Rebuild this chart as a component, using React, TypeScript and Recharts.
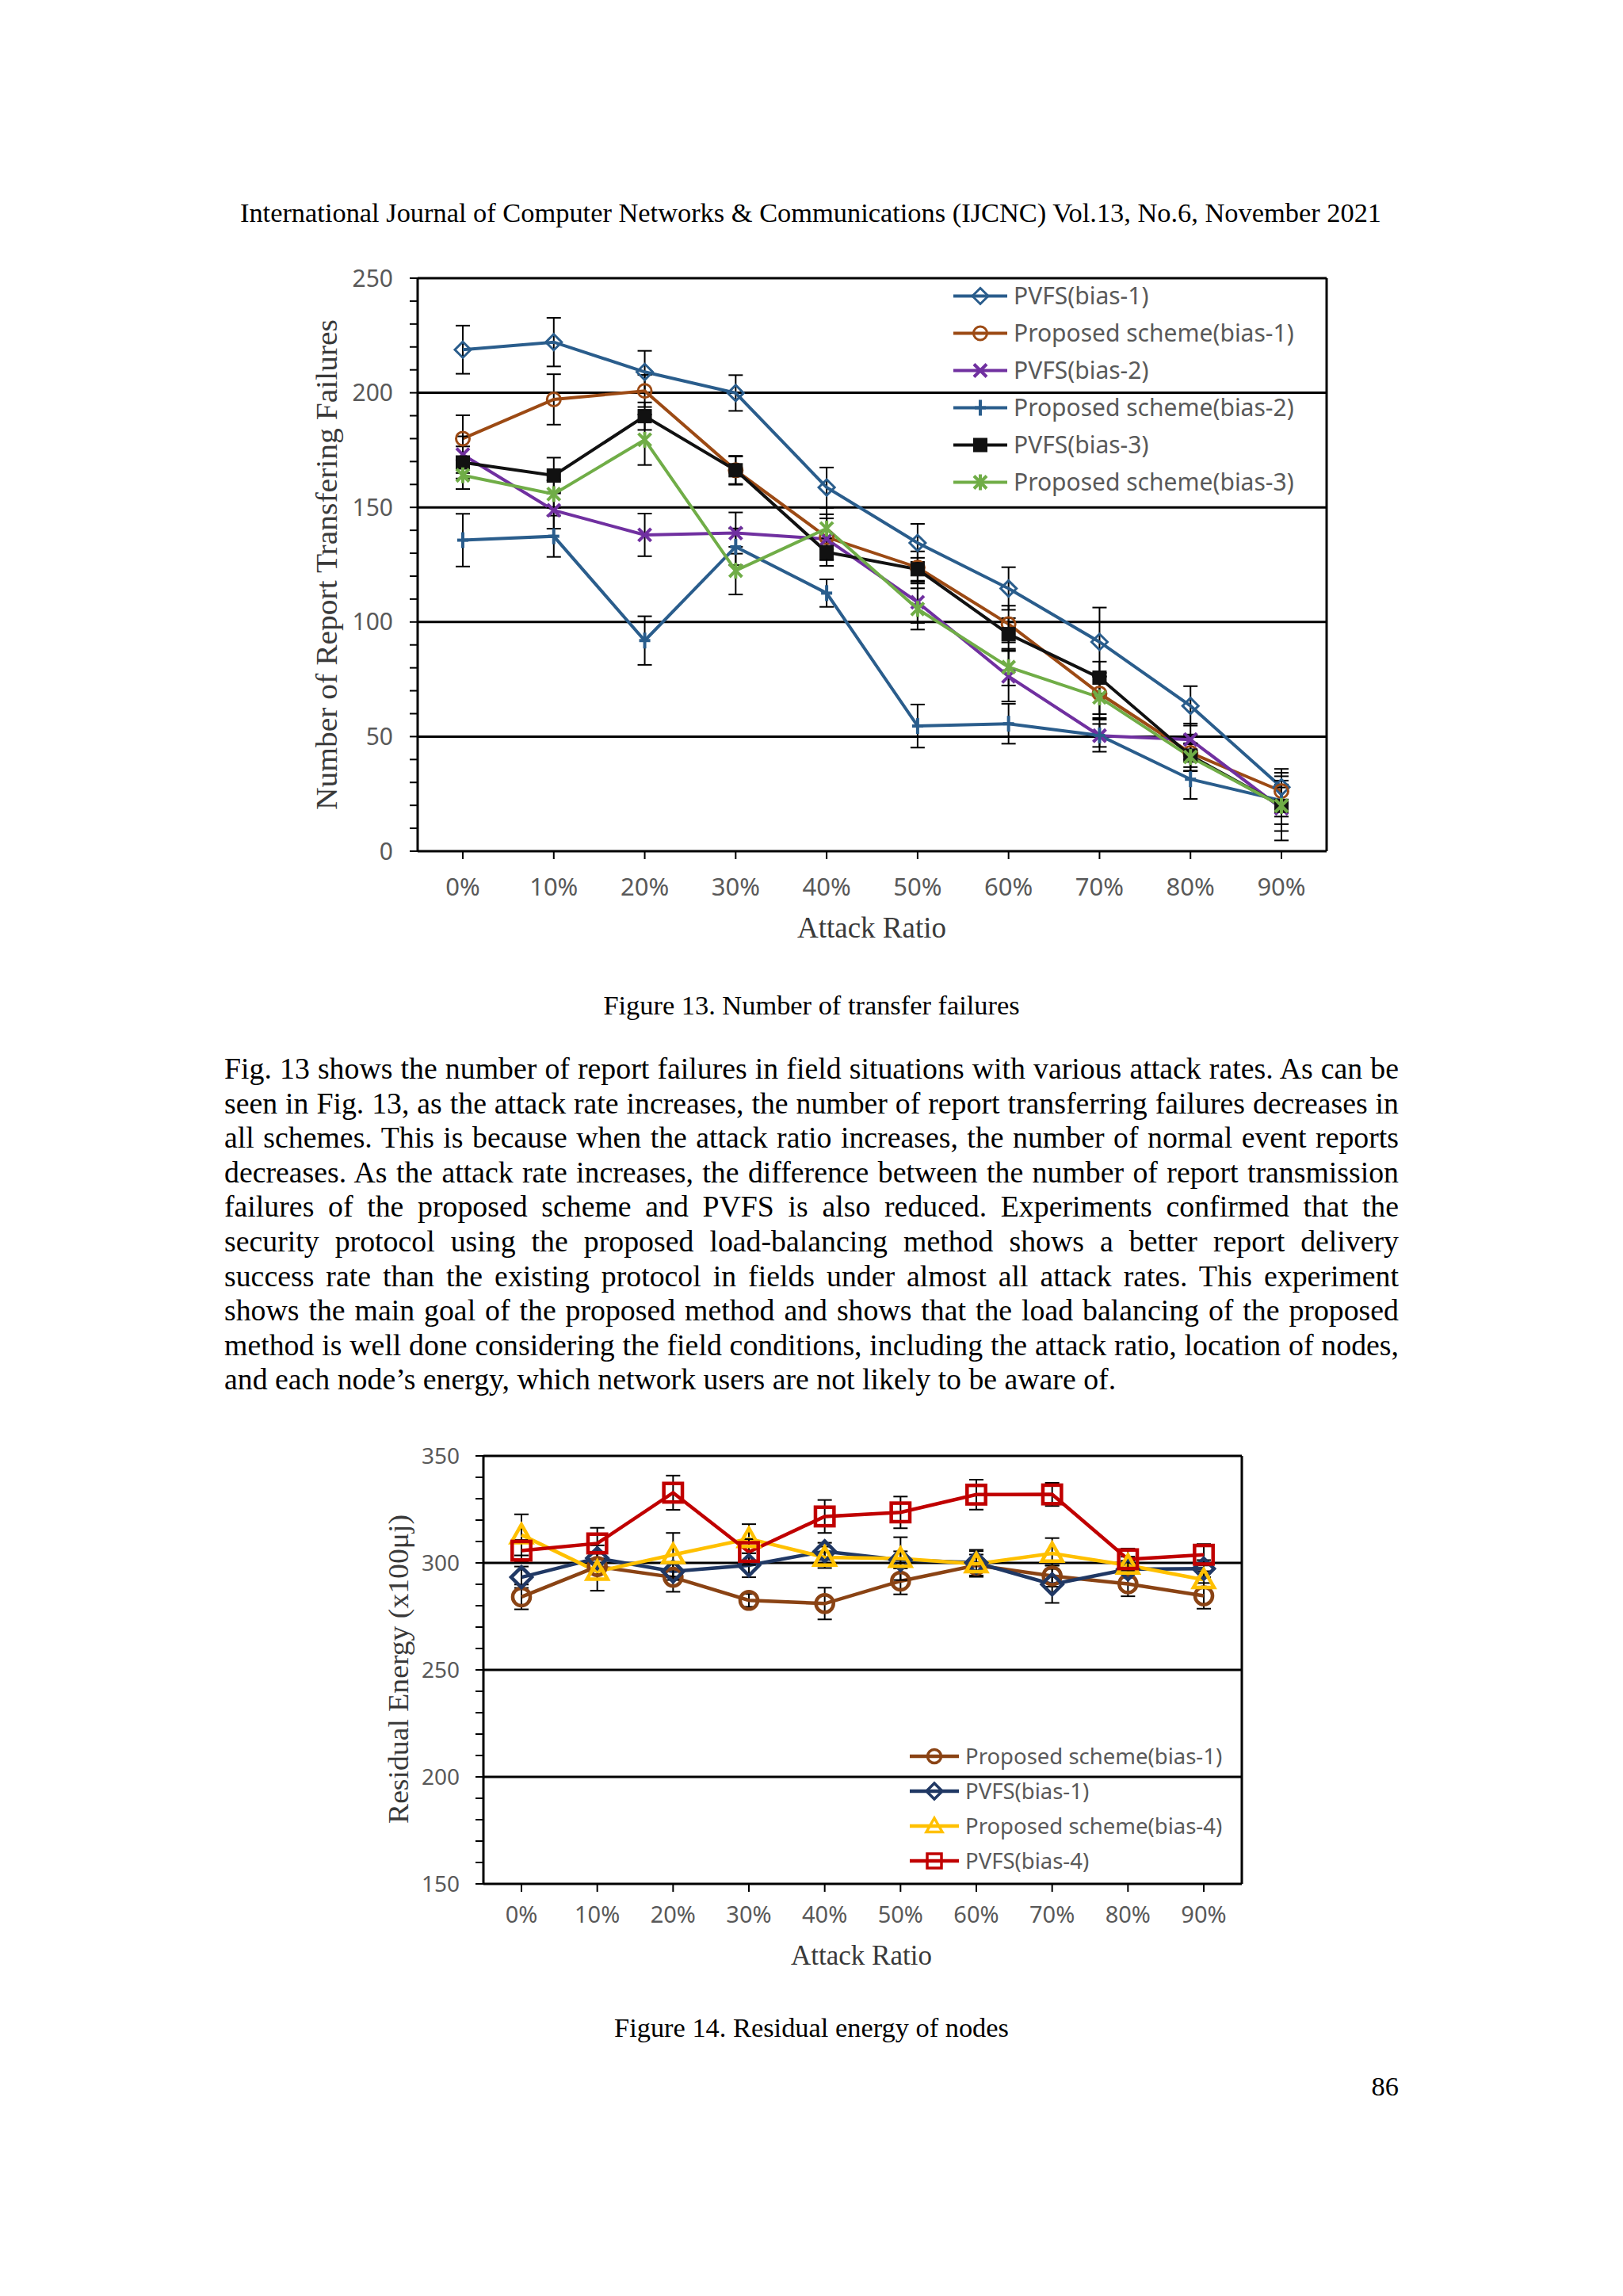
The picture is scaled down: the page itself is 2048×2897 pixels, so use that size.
import React from 'react';
import {
  LineChart,
  Line,
  XAxis,
  YAxis,
  ErrorBar,
  ReferenceLine,
  CartesianGrid,
  Legend,
} from 'recharts';

const ratios = ['0%', '10%', '20%', '30%', '40%', '50%', '60%', '70%', '80%', '90%'];

// Figure 13 - number of transfer failures
const pvfsB1 = [218.8, 222.1, 209.1, 199.9, 158.7, 134.5, 114.6, 91.3, 63.4, 27.9];
const pvfsB1Err = [10.5, 10.6, 9.2, 7.8, 8.7, 8.3, 9.3, 15, 8.6, 8];
const propB1 = [180, 197.1, 200.8, 166.2, 137, 123.8, 99.1, 68.8, 42.9, 26.2];
const propB1Err = [10.2, 11, 7, 6, 10, 7, 8, 9, 8, 8];
const pvfsB2 = [173, 148.7, 138, 138.8, 136.2, 108.6, 76.3, 50.4, 48.7, 18.7];
const pvfsB2Err = [8, 8, 9.3, 9, 9, 9, 11, 7, 7, 14];
const propB2 = [135.7, 137.4, 91.9, 132.8, 112.6, 54.6, 55.6, 50.5, 31.4, 22.1];
const propB2Err = [11.5, 9, 10.6, 8, 6, 9.4, 8.7, 5, 8.6, 7];
const pvfsB3 = [169.6, 163.9, 189.8, 166.2, 130.5, 123, 94.7, 75.7, 41.7, 19.8];
const pvfsB3Err = [7, 7.8, 6, 6.3, 6, 5, 7, 7, 5, 8];
const propB3 = [164, 155.8, 179.5, 122.4, 140.8, 105.7, 80.3, 67.1, 41.1, 19.8];
const propB3Err = [6, 6, 11, 10.4, 9, 9, 8, 9, 6, 11];

const yTicks1 = [0, 10, 20, 30, 40, 50, 60, 70, 80, 90, 100, 110, 120, 130, 140, 150, 160, 170, 180, 190, 200, 210, 220, 230, 240, 250];
const gridValues1 = [50, 100, 150, 200, 250];

// Figure 14 - residual energy
const propE1 = [284.1, 298.3, 293.3, 282.5, 281, 291.5, 298.9, 293.9, 290.2, 284.6];
const propE1Err = [5.8, 6, 6.8, 3, 7.4, 6.2, 5, 5, 5.8, 6];
const pvfsE1 = [293.3, 302.2, 296, 298.9, 305.4, 301.4, 300.1, 290, 297, 297.3];
const pvfsE1Err = [5, 6, 4, 5.6, 4, 4, 6, 8.7, 4, 4];
const propE4 = [313.1, 296, 303.8, 311.3, 302.6, 302, 299.5, 304.4, 298.9, 292.1];
const propE4Err = [9.6, 9, 10.2, 6.8, 5, 10, 6, 7.2, 4, 4];
const pvfsE4 = [305.7, 309.1, 332.8, 305.1, 321.7, 323.6, 331.9, 332, 301.7, 303.8];
const pvfsE4Err = [5, 7.3, 8, 6, 7.7, 7.4, 7, 5.4, 5, 5];

const yTicks2 = [150, 160, 170, 180, 190, 200, 210, 220, 230, 240, 250, 260, 270, 280, 290, 300, 310, 320, 330, 340, 350];
const gridValues2 = [200, 250, 300, 350];

const paragraph = [
  'Fig. 13 shows the number of report failures in field situations with various attack rates. As can be',
  'seen in Fig. 13, as the attack rate increases, the number of report transferring failures decreases in',
  'all schemes. This is because when the attack ratio increases, the number of normal event reports',
  'decreases. As the attack rate increases, the difference between the number of report transmission',
  'failures of the proposed scheme and PVFS is also reduced. Experiments confirmed that the',
  'security protocol using the proposed load-balancing method shows a better report delivery',
  'success rate than the existing protocol in fields under almost all attack rates. This experiment',
  'shows the main goal of the proposed method and shows that the load balancing of the proposed',
  'method is well done considering the field conditions, including the attack ratio, location of nodes,',
  'and each node\u2019s energy, which network users are not likely to be aware of.',
];

type Shape = 'diamond' | 'circle' | 'x' | 'plus' | 'square' | 'star' | 'triangle' | 'openSquare';

interface SeriesDef {
  key: string;
  name: string;
  color: string;
  shape: Shape;
  values: number[];
  errors: number[];
}

const series1: SeriesDef[] = [
  { key: 'pvfsB1', name: 'PVFS(bias-1)', color: '#2a5d8c', shape: 'diamond', values: pvfsB1, errors: pvfsB1Err },
  { key: 'propB1', name: 'Proposed scheme(bias-1)', color: '#9c4a14', shape: 'circle', values: propB1, errors: propB1Err },
  { key: 'pvfsB2', name: 'PVFS(bias-2)', color: '#7030a0', shape: 'x', values: pvfsB2, errors: pvfsB2Err },
  { key: 'propB2', name: 'Proposed scheme(bias-2)', color: '#2a5d8c', shape: 'plus', values: propB2, errors: propB2Err },
  { key: 'pvfsB3', name: 'PVFS(bias-3)', color: '#111111', shape: 'square', values: pvfsB3, errors: pvfsB3Err },
  { key: 'propB3', name: 'Proposed scheme(bias-3)', color: '#70ad47', shape: 'star', values: propB3, errors: propB3Err },
];

const series2: SeriesDef[] = [
  { key: 'propE1', name: 'Proposed scheme(bias-1)', color: '#8a4314', shape: 'circle', values: propE1, errors: propE1Err },
  { key: 'pvfsE1', name: 'PVFS(bias-1)', color: '#203864', shape: 'diamond', values: pvfsE1, errors: pvfsE1Err },
  { key: 'propE4', name: 'Proposed scheme(bias-4)', color: '#ffc000', shape: 'triangle', values: propE4, errors: propE4Err },
  { key: 'pvfsE4', name: 'PVFS(bias-4)', color: '#c00000', shape: 'openSquare', values: pvfsE4, errors: pvfsE4Err },
];

const buildRows = (defs: SeriesDef[]) =>
  ratios.map((ratio, i) => {
    const row: any = { ratio };
    defs.forEach((d) => {
      row[d.key] = d.values[i];
      row[d.key + 'Err'] = d.errors[i];
    });
    return row;
  });

const data1 = buildRows(series1);
const data2 = buildRows(series2);

const tickFont = '"Noto Sans", sans-serif';
const serif = '"Liberation Serif", "Times New Roman", serif';

// right edge of the plot frame, taken from the chart's own offset
const rightEdge = ({ offset }: any) => [offset.left + offset.width];

const Marker = ({ shape, color, cx, cy, s, sw }: any) => {
  if (cx == null || cy == null) return null;
  switch (shape) {
    case 'diamond':
      return (
        <polygon
          points={`${cx},${cy - s} ${cx + s},${cy} ${cx},${cy + s} ${cx - s},${cy}`}
          fill="none"
          stroke={color}
          strokeWidth={sw}
        />
      );
    case 'circle':
      return <circle cx={cx} cy={cy} r={s * 0.85} fill="none" stroke={color} strokeWidth={sw} />;
    case 'x':
      return (
        <g stroke={color} strokeWidth={sw + 1}>
          <line x1={cx - s * 0.8} y1={cy - s * 0.8} x2={cx + s * 0.8} y2={cy + s * 0.8} />
          <line x1={cx - s * 0.8} y1={cy + s * 0.8} x2={cx + s * 0.8} y2={cy - s * 0.8} />
        </g>
      );
    case 'plus':
      return (
        <g stroke={color} strokeWidth={sw + 1}>
          <line x1={cx} y1={cy - s} x2={cx} y2={cy + s} />
          <line x1={cx - s * 0.7} y1={cy} x2={cx + s * 0.7} y2={cy} />
        </g>
      );
    case 'square':
      return <rect x={cx - s * 0.85} y={cy - s * 0.85} width={s * 1.7} height={s * 1.7} fill={color} stroke={color} strokeWidth={1} />;
    case 'star':
      return (
        <g stroke={color} strokeWidth={sw + 1}>
          <line x1={cx - s * 0.8} y1={cy - s * 0.8} x2={cx + s * 0.8} y2={cy + s * 0.8} />
          <line x1={cx - s * 0.8} y1={cy + s * 0.8} x2={cx + s * 0.8} y2={cy - s * 0.8} />
          <line x1={cx} y1={cy - s} x2={cx} y2={cy + s} />
        </g>
      );
    case 'triangle':
      return (
        <polygon
          points={`${cx},${cy - s} ${cx + s},${cy + s * 0.75} ${cx - s},${cy + s * 0.75}`}
          fill="none"
          stroke={color}
          strokeWidth={sw}
        />
      );
    case 'openSquare':
      return <rect x={cx - s * 0.9} y={cy - s * 0.9} width={s * 1.8} height={s * 1.8} fill="none" stroke={color} strokeWidth={sw} />;
    default:
      return null;
  }
};

const LegendBox = ({ defs, rowH, iconW, fontSize, s, sw, lw }: any) => (
  <div>
    {defs.map((d: SeriesDef) => (
      <div key={d.key} style={{ display: 'flex', alignItems: 'center', height: rowH }}>
        <svg width={iconW} height={rowH}>
          <line x1={0} y1={rowH / 2} x2={iconW} y2={rowH / 2} stroke={d.color} strokeWidth={lw} />
          <Marker shape={d.shape} color={d.color} cx={iconW / 2} cy={rowH / 2} s={s} sw={sw} />
        </svg>
        <span
          style={{
            marginLeft: 8,
            fontFamily: tickFont,
            fontSize,
            color: '#595959',
            whiteSpace: 'nowrap',
            lineHeight: 1,
          }}
        >
          {d.name}
        </span>
      </div>
    ))}
  </div>
);

const Text = ({ x, y, size, children, color = '#000', anchor = 'center' }: any) => (
  <div
    style={{
      position: 'absolute',
      left: x,
      top: y,
      transform: anchor === 'center' ? 'translate(-50%, -50%)' : 'translate(-100%, -50%)',
      fontFamily: serif,
      fontSize: size,
      lineHeight: 1,
      whiteSpace: 'nowrap',
      color,
    }}
  >
    {children}
  </div>
);

const VerticalTitle = ({ cx, cy, size, length, children }: any) => (
  <svg
    style={{ position: 'absolute', left: cx - 40, top: cy - length / 2 - 20, overflow: 'visible' }}
    width={80}
    height={length + 40}
  >
    <text
      transform={`translate(40, ${length / 2 + 20}) rotate(-90)`}
      textAnchor="middle"
      dominantBaseline="central"
      fontFamily={serif}
      fontSize={size}
      fill="#3a3a3a"
      textLength={length}
      lengthAdjust="spacingAndGlyphs"
    >
      {children}
    </text>
  </svg>
);

const renderSeries = (defs: SeriesDef[], s: number, sw: number, lw: number) =>
  defs.map((d) => (
    <Line
      key={d.key}
      type="linear"
      dataKey={d.key}
      name={d.name}
      stroke={d.color}
      strokeWidth={lw}
      isAnimationActive={false}
      activeDot={false}
      dot={(p: any) => (
        <Marker key={`${d.key}-${p.index}`} shape={d.shape} color={d.color} cx={p.cx} cy={p.cy} s={s} sw={sw} />
      )}
    >
      <ErrorBar dataKey={d.key + 'Err'} width={9} strokeWidth={2} stroke="#000" direction="y" isAnimationActive={false} />
    </Line>
  ));

export default function App() {
  return (
    <div style={{ position: 'absolute', left: 0, top: 0, width: 2048, height: 2897, background: '#fff', overflow: 'hidden' }}>
      <Text x={1023} y={268} size={34.4}>
        International Journal of Computer Networks &amp; Communications (IJCNC) Vol.13, No.6, November 2021
      </Text>

      {/* Figure 13 */}
      <div style={{ position: 'absolute', left: 380, top: 330 }}>
        <LineChart width={1320} height={840} data={data1} margin={{ top: 21, right: 26, bottom: 46, left: 67 }}>
          <CartesianGrid
            horizontal={false}
            verticalCoordinatesGenerator={rightEdge}
            stroke="#000"
            strokeWidth={3}
          />
          {gridValues1.map((v) => (
            <ReferenceLine key={v} y={v} stroke="#000" strokeWidth={3} />
          ))}
          <XAxis
            dataKey="ratio"
            height={50}
            interval={0}
            padding={{ left: 57, right: 57 }}
            tickSize={10}
            tickMargin={24}
            axisLine={{ stroke: '#000', strokeWidth: 3 }}
            tickLine={{ stroke: '#000', strokeWidth: 2 }}
            tick={{ fill: '#595959', fontSize: 31, fontFamily: tickFont }}
          />
          <YAxis
            type="number"
            domain={[0, 250]}
            ticks={yTicks1}
            interval={0}
            width={80}
            tickSize={10}
            tickMargin={21}
            axisLine={{ stroke: '#000', strokeWidth: 3 }}
            tickLine={{ stroke: '#000', strokeWidth: 2 }}
            tick={{ fill: '#595959', fontSize: 30, fontFamily: tickFont }}
            tickFormatter={(v: number) => (v % 50 === 0 ? String(v) : '')}
          />
          {renderSeries(series1, 10, 3, 4)}
          <Legend
            layout="vertical"
            align="center"
            verticalAlign="middle"
            wrapperStyle={{ left: 823, top: 19.5, width: 'auto', height: 'auto' }}
            content={() => <LegendBox defs={series1} rowH={47} iconW={68} fontSize={30} s={10} sw={3} lw={4} />}
          />
        </LineChart>
      </div>
      <VerticalTitle cx={412} cy={712} size={37} length={619}>
        Number of Report Transfering Failures
      </VerticalTitle>
      <Text x={1100} y={1170} size={37} color="#3a3a3a">
        Attack Ratio
      </Text>
      <Text x={1024} y={1268} size={34.4}>
        Figure 13. Number of transfer failures
      </Text>

      <div style={{ position: 'absolute', left: 283, top: 1327, width: 1482, fontFamily: serif, fontSize: 37.8, color: '#000' }}>
        {paragraph.map((line, i) => (
          <div
            key={i}
            style={{
              height: 43.6,
              lineHeight: '43.6px',
              textAlign: 'justify',
              textAlignLast: i === paragraph.length - 1 ? 'left' : 'justify',
            }}
          >
            {line}
          </div>
        ))}
      </div>

      {/* Figure 14 */}
      <div style={{ position: 'absolute', left: 470, top: 1815 }}>
        <LineChart width={1120} height={660} data={data2} margin={{ top: 22, right: 23, bottom: 48, left: 60 }}>
          <CartesianGrid
            horizontal={false}
            verticalCoordinatesGenerator={rightEdge}
            stroke="#000"
            strokeWidth={3}
          />
          {gridValues2.map((v) => (
            <ReferenceLine key={v} y={v} stroke="#000" strokeWidth={3} />
          ))}
          <XAxis
            dataKey="ratio"
            height={50}
            interval={0}
            padding={{ left: 48, right: 48 }}
            tickSize={10}
            tickMargin={18}
            axisLine={{ stroke: '#000', strokeWidth: 3 }}
            tickLine={{ stroke: '#000', strokeWidth: 2 }}
            tick={{ fill: '#595959', fontSize: 29, fontFamily: tickFont }}
          />
          <YAxis
            type="number"
            domain={[150, 350]}
            ticks={yTicks2}
            interval={0}
            width={80}
            tickSize={10}
            tickMargin={20}
            axisLine={{ stroke: '#000', strokeWidth: 3 }}
            tickLine={{ stroke: '#000', strokeWidth: 2 }}
            tick={{ fill: '#595959', fontSize: 28, fontFamily: tickFont }}
            tickFormatter={(v: number) => (v % 50 === 0 ? String(v) : '')}
          />
          {renderSeries(series2, 13, 4.5, 4.5)}
          <Legend
            layout="vertical"
            align="center"
            verticalAlign="middle"
            wrapperStyle={{ left: 678, top: 379, width: 'auto', height: 'auto' }}
            content={() => <LegendBox defs={series2} rowH={44} iconW={62} fontSize={27.5} s={10} sw={3.5} lw={4.5} />}
          />
        </LineChart>
      </div>
      <VerticalTitle cx={503} cy={2106} size={35} length={390}>
        Residual Energy (x100μj)
      </VerticalTitle>
      <Text x={1087} y={2467} size={35} color="#3a3a3a">
        Attack Ratio
      </Text>
      <Text x={1024} y={2558} size={34.4}>
        Figure 14. Residual energy of nodes
      </Text>

      <Text x={1765} y={2632} size={34.4} anchor="right">
        86
      </Text>
    </div>
  );
}
